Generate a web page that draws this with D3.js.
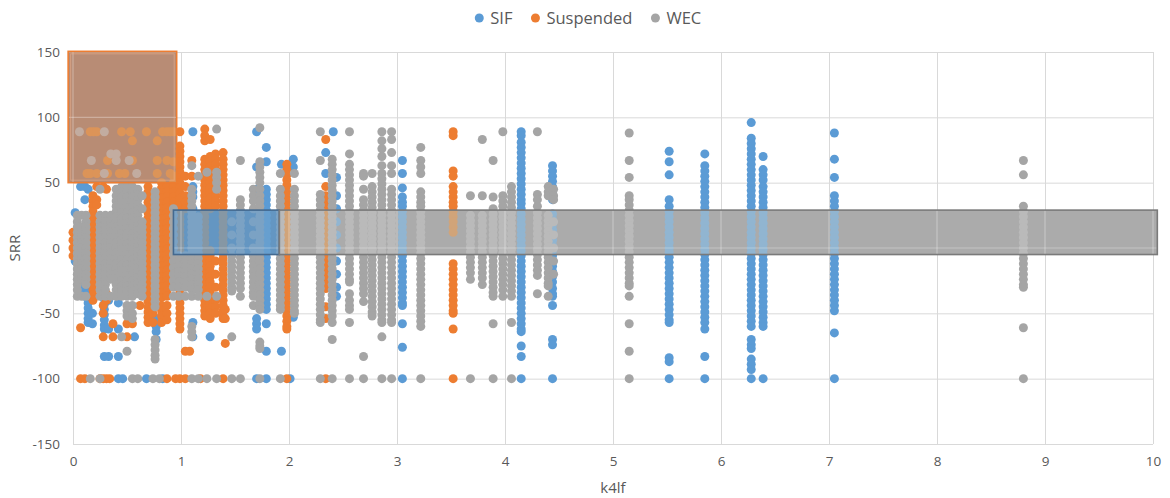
<!DOCTYPE html>
<html><head><meta charset="utf-8">
<script src="https://cdn.jsdelivr.net/npm/d3@7"></script>
<style>
body{margin:0;background:#fff;}
text{font-family:"Open Sans","Liberation Sans",sans-serif;}
</style>
</head><body>
<svg id="chart" width="1170" height="498"></svg>
<script>
// ---------- data ----------
const seriesNames = ["SIF", "Suspended", "WEC"];
const seriesColors = ["#5B9BD5", "#ED7D31", "#A5A5A5"];
const xTicks = [0, 1, 2, 3, 4, 5, 6, 7, 8, 9, 10];
const yTicks = [-150, -100, -50, 0, 50, 100, 150];
const xTitle = "k4lf";
const yTitle = "SRR";

// each entry: [k4lf, [SRR values at that k4lf]]
const sifCols = [
  [0.02, [27, 10, -10]],
  [0.07, [47, -31, -35]],
  [0.11, [47, 37, -27, -31, -37]],
  [0.14, [45, -26, -30, -34, -38, -42, -46, -50, -54, -57]],
  [0.18, [-50, -58]],
  [0.29, [-39, -43, -47, -51, -55, -59, -62, -83]],
  [0.33, [-40, -62, -83]],
  [0.42, [-42, -62, -83, -100]],
  [0.46, [-100]],
  [0.57, [-68]],
  [0.68, [-100]],
  [0.77, [-54, -57, -60, -64, -70]],
  [0.83, [-100]],
  [1.11, [89, 47, 43, 39, 30, 20, 10, 0, -57, -68]],
  [1.27, [-68]],
  [1.70, [89, 62, 45, 40, -54, -58, -62, -100]],
  [1.79, [77, 66, 45, 41, 37, 33, 29, 25, 21, 17, 13, 9, 5, 1, -3, -7, -11, -15, -19, -23, -27, -31, -35, -39, -43, -47, -58, -79, -100]],
  [1.93, [64, -79]],
  [2.01, [-100]],
  [2.04, [68, 62, -53]],
  [2.34, [73, 57]],
  [2.41, [89]],
  [2.44, [54, 40, 30, 20, 10, 0, -10, -20, -30, -37]],
  [3.05, [67, 57, 46, 39, 35, 32, 28, 24, 20, 16, 12, 8, 4, 0, -4, -6, -10, -14, -18, -22, -26, -30, -34, -38, -42, -44, -58, -76, -100]],
  [4.15, [89, 86, 81, 77, 73, 69, 65, 61, 57, 53, 49, 45, 41, 37, 34, 30, 26, 22, 18, 14, 10, 6, 2, -2, -6, -10, -14, -18, -22, -26, -30, -34, -38, -42, -46, -50, -54, -58, -62, -64, -75, -83, -100]],
  [4.44, [63, 59, 55, 51, 47, 43, 39, 37, 26, 22, 18, 14, 10, 6, 2, -2, -6, -10, -14, -18, -22, -26, -31, -35, -37, -44, -70, -74, -100]],
  [5.52, [74, 66, 56, 37, 32, 28, 24, 20, 16, 12, 8, 4, 0, -3, -7, -11, -15, -19, -23, -27, -31, -35, -39, -43, -47, -51, -55, -57, -84, -87, -100]],
  [5.85, [72, 63, 59, 55, 51, 47, 43, 39, 35, 31, 27, 23, 19, 15, 11, 7, 3, -1, -5, -9, -13, -17, -21, -25, -29, -33, -37, -41, -45, -49, -53, -57, -62, -83, -100]],
  [6.28, [96, 84, 80, 76, 72, 68, 64, 60, 56, 52, 48, 44, 40, 36, 32, 28, 24, 20, 16, 12, 8, 4, 0, -4, -8, -12, -16, -20, -24, -28, -32, -36, -40, -44, -48, -52, -56, -60, -70, -74, -77, -85, -89, -93, -100]],
  [6.39, [70, 60, 56, 52, 47, 43, 39, 35, 31, 27, 23, 19, 15, 11, 7, 3, -1, -5, -9, -13, -17, -21, -25, -29, -33, -37, -41, -45, -49, -53, -57, -60, -100]],
  [7.05, [88, 68, 54, 40, 36, 32, 28, 24, 20, 16, 12, 8, 4, 0, -4, -8, -12, -16, -20, -24, -28, -32, -36, -40, -44, -48, -65, -100]]
];

const suspendedCols = [
  [0.00, [12, 6, 0, -6]],
  [0.07, [-61, -100]],
  [0.11, [-100]],
  [0.13, [57]],
  [0.16, [89, 57]],
  [0.185, [40, 36, 32, 28, 24, 20, 16, 12, 8, 4, 0, -4, -8, -12, -16, -20, -24, -28, -32, -36, -40]],
  [0.19, [89]],
  [0.22, [89, 57, 47, 37, 33]],
  [0.25, [-100]],
  [0.28, [47, -44, -50, -68, -100]],
  [0.31, [45, -35, -40, -100]],
  [0.32, [67, 57]],
  [0.34, [-100]],
  [0.37, [-58, -68]],
  [0.43, [57]],
  [0.45, [89]],
  [0.48, [57]],
  [0.50, [-58, -68]],
  [0.53, [89]],
  [0.55, [82, 67, -58]],
  [0.62, [-44]],
  [0.68, [89]],
  [0.695, [47, 43, 39, 35, 31, 27, 23, 19, 15, 11, 7, 3, -1, -5, -9, -13, -17, -21, -25, -29, -33, -37, -41, -45, -49, -53, -57]],
  [0.74, [-44, -50, -57]],
  [0.78, [82, 67, 57]],
  [0.82, [50, 46, 42, 38, 34, 30, 26, 22, 18, 14, 10, 6, 2, -2, -6, -10, -14, -18, -22, -26, -30, -34, -38, -44, -48, -52, -57]],
  [0.83, [89]],
  [0.87, [89, 67, 47, 43, 39, 35, 31, 27, 23, 19, 15, 11, 7, 3, -1, -5, -9, -13, -17, -21, -25, -29, -33, -37, -44, -50, -55, -100]],
  [0.90, [89, 57]],
  [0.93, [89, 66, 55, 50, 47, 43, 39, 35, 31]],
  [0.95, [-100]],
  [0.99, [89, 78, 74, 70, 66, 62, 58, 54, 50, 46, 42, 38, 34, 30, 26, 22, 18, 14, 10, 6, 2, -2, -6, -10, -14, -18, -22, -26, -30, -34, -38, -42, -46, -50, -54, -58, -62, -100]],
  [1.04, [55, 47, 40, 35, 30, -79, -100]],
  [1.08, [-79]],
  [1.10, [67, 55]],
  [1.18, [-100]],
  [1.22, [91, 86, 82, 68, 64, 60, 56, 52, 48, 44, 40, 36, 32, 28, 24, 20, 16, 12, 8, 4, 0, -4, -8, -12, -16, -20, -24, -28, -32, -36, -40, -44, -48, -52]],
  [1.27, [83, 70, 66, 62, 58, 54, 50, 46, 42, 38, 34, 30, -2, -6, -10, -14, -18, -22, -26, -30, -34, -38, -42, -46, -50, -54]],
  [1.32, [72, 68, 64, 60, 56, 52, 48, 44, 40, 36, 32, -10, -20, -30, -40, -45, -50]],
  [1.39, [73, 68, 64, 60, 56, 52, 48, 44, 40, 36, 32, 28, 24, 20, 16, 12, 8, 4, 0, -4, -8, -12, -16, -20, -24, -28, -32, -36, -40, -44, -48, -52, -54, -100]],
  [1.41, [-47, -54, -73]],
  [1.98, [64, 60, 56, 52, 48, 44, 40, 36, 32, 28, 24, 20, 16, 12, 8, 4, 0, -4, -8, -12, -16, -20, -24, -28, -32, -36, -40, -44, -48, -52, -56, -60, -62, -100]],
  [2.34, [83, 47, 40, 36, 32, 28, 24, 20, 16, 12, 8, 4, 0, -4, -8, -12, -16, -20, -24, -28, -31, -45, -54, -100]],
  [3.52, [89, 86, 59, 55, 47, 43, 39, 35, 32, 28, 24, 20, 16, 12, -12, -16, -20, -24, -28, -32, -36, -40, -44, -48, -50, -62, -100]]
];

const wecCols = [
  [0.04, [25, 20, 16, 12, 8, 4, 0, -4, -8, -12, -16, -20, -24, -28, -32, -37]],
  [0.06, [89]],
  [0.08, [25, 16, 12, 8, 4, 0, -4, -8, -12, -16, -20, -24, -37]],
  [0.12, [25, 20, 16, 12, 8, 4, 0, -4, -8, -12, -16, -20, -24, -28, -37]],
  [0.16, [-100]],
  [0.17, [67]],
  [0.25, [45, 25, 20, 16, 12, 8, 4, 0, -4, -8, -12, -16, -20, -24, -28, -32, -37, -100]],
  [0.29, [89, 57]],
  [0.30, [25, 20, 16, 12, 8, 4, 0, -4, -8, -12, -16, -20, -24, -28, -32, -37]],
  [0.35, [72, 25, 20, 16, 12, 8, 4, 0, -4, -8, -12, -16, -20, -24, -37]],
  [0.40, [72, 67, 45, 40, 36, 32, 28, 24, 20, 16, 12, 8, 4, 0, -4, -8, -12, -16, -20, -24, -28, -32, -37]],
  [0.45, [47, 43, 39, 35, 31, 27, 23, 19, 15, 11, 7, 3, -1, -5, -9, -13, -17, -21, -25, -29, -33, -37, -68]],
  [0.50, [47, 43, 39, 35, 31, 27, 23, 19, 15, 11, 7, 3, -1, -5, -9, -13, -17, -21, -25, -29, -33, -37, -44, -48, -52, -79]],
  [0.52, [67]],
  [0.55, [47, 43, 39, 35, 31, 27, 23, 19, 15, 11, 7, 3, -1, -5, -9, -13, -17, -21, -25, -29, -33, -37, -44, -50, -54, -100]],
  [0.59, [57]],
  [0.60, [45, 41, 37, 33, 29, 25, 21, 17, 13, 9, 5, 1, -3, -7, -11, -15, -19, -23, -27, -31, -35, -100]],
  [0.64, [40, 30, 20, 16, 12, 8, 4, 0, -4, -8, -12, -16, -20, -24, -28, -32, -37]],
  [0.74, [-100]],
  [0.76, [43, 39, 35, 31, 27, 23, 19, 15, 11, 7, 3, -1, -5, -9, -13, -17, -21, -25, -29, -33, -37, -41, -45, -70, -74, -78, -82, -85]],
  [0.80, [-100]],
  [0.93, [30, 25, 20, 15, 10, 5, 0, -5, -10, -15, -20, -25, -30, -37]],
  [0.98, [-6, -10, -14, -18, -22, -26, -30, -37]],
  [1.04, [-6, -10, -14, -18, -22, -26, -30, -37]],
  [1.10, [63, 45, 40, 36, 32, 28, 24, 20, 16, 12, 8, 4, 0, -4, -8, -12, -16, -20, -24, -28, -32, -37, -60, -64, -68, -100]],
  [1.16, [55, 24, 20, 16, 12, 8, 4, 0, -4, -8, -12, -16, -20, -24, -28, -32, -37, -100]],
  [1.24, [58, -37, -100]],
  [1.33, [91, 58, 54, 50, 45, -37, -100]],
  [1.47, [20, 10, 0, -6, -10, -14, -18, -22, -26, -30, -33, -68, -100]],
  [1.55, [67, 37, 33, 29, 25, 21, 17, 13, 9, 5, 1, -3, -7, -11, -15, -19, -23, -27, -31, -37, -100]],
  [1.67, [45, 40, 36, 30, 20, 10, 0, -6, -10, -14, -18, -22, -26, -30, -34, -37, -44]],
  [1.73, [92, 66, 62, 58, 54, 50, 45, 40, 36, 32, 28, 24, 20, 16, 12, 8, 4, 0, -4, -8, -12, -16, -20, -24, -28, -32, -36, -40, -44, -47, -72, -75, -77, -100]],
  [1.92, [57, 45, 40, 36, 32, 28, 24, 20, 16, 12, 8, 4, 0, -4, -8, -12, -16, -20, -24, -28, -32, -36, -40, -44, -47, -100]],
  [2.05, [57, 45, 40, 36, 32, 28, 24, 20, 16, 12, 8, 4, 0, -4, -8, -12, -16, -20, -24, -28, -32, -36, -40, -44, -48, -50]],
  [2.29, [89, 67, 41, 37, 33, 29, 25, 21, 17, 13, 9, 5, 1, -3, -7, -11, -15, -19, -23, -27, -31, -35, -39, -43, -47, -51, -55, -57, -100]],
  [2.40, [68, 64, 60, 56, 52, 48, 44, 40, 36, 32, 28, 24, 20, 16, 12, 8, 4, 0, -4, -8, -12, -16, -20, -24, -28, -32, -36, -40, -44, -48, -52, -57, -70, -100]],
  [2.56, [89, 72, 64, 60, 56, 52, 48, 44, 40, 36, 32, 28, 24, 20, 16, 12, 8, 4, 0, -4, -8, -12, -16, -20, -24, -26, -35, -40, -44, -47, -57, -100]],
  [2.69, [57, 55, 45, 37, 33, 29, 25, 21, 17, 13, 9, 5, 1, -3, -7, -11, -15, -19, -23, -27, -31, -35, -41, -83, -100]],
  [2.77, [57, 47, 43, 39, 35, 31, 27, 23, 19, 15, 11, 7, 3, -1, -5, -9, -13, -17, -21, -25, -29, -33, -37, -41, -45, -49, -52]],
  [2.86, [89, 82, 76, 70, 63, 57, 53, 49, 45, 41, 37, 33, 29, 25, 21, 17, 13, 9, 5, 1, -3, -7, -11, -15, -19, -23, -27, -31, -35, -39, -43, -47, -51, -55, -57, -68, -100]],
  [2.95, [89, 83, 73, 63, 57, 45, 41, 37, 33, 29, 25, 21, 17, 13, 9, 5, 1, -3, -7, -11, -15, -19, -23, -27, -31, -35, -39, -43, -47, -51, -55, -57, -100]],
  [3.22, [77, 67, 62, 57, 43, 39, 35, 32, 28, 24, 20, 16, 12, 8, 4, 0, -4, -8, -12, -16, -20, -24, -28, -32, -36, -40, -44, -48, -52, -56, -60, -100]],
  [3.68, [40, 25, 21, 17, 13, 9, 5, 1, -3, -7, -11, -15, -19, -24, -100]],
  [3.79, [83, 40, 25, 21, 17, 13, 9, 5, 1, -3, -7, -11, -15, -19, -23, -28]],
  [3.89, [67, 39, 30, 26, 22, 18, 14, 10, 6, 2, -2, -6, -10, -14, -18, -22, -26, -30, -34, -37, -58, -100]],
  [3.98, [89, 40, 36, 32, 28, 24, 20, 16, 12, 8, 4, 0, -4, -8, -12, -16, -20, -24, -28, -32, -37]],
  [4.06, [47, 43, 39, 35, 31, 27, 23, 19, 15, 11, 7, 3, -1, -5, -9, -13, -17, -21, -25, -29, -33, -37, -57, -100]],
  [4.30, [89, 41, 37, 32, 27, 23, 19, 15, 11, 7, 3, -1, -5, -9, -13, -17, -21, -35]],
  [4.40, [47, 43, 40, 25, 21, 17, 13, 9, 5, 1, -3, -7, -11, -15, -19, -23, -27, -29, -37]],
  [4.45, [45, 40, 37, 20, 10, 0, -10, -20]],
  [5.15, [88, 67, 54, 40, 37, 33, 29, 25, 21, 17, 13, 9, 5, 1, -3, -7, -11, -15, -19, -23, -27, -29, -37, -58, -79, -100]],
  [8.80, [67, 56, 32, 28, 24, 20, 16, 12, 8, 4, 0, -4, -8, -12, -16, -20, -24, -28, -30, -61, -100]]
];

// highlighted zones (data units)
const zoneNames = ["Suspended zone", "SIF zone", "WEC zone"];
const zoneX0 = [-0.045, 0.93, 1.91];
const zoneX1 = [0.96, 1.91, 10.04];
const zoneYLow = [50, -5, -5];
const zoneYHigh = [150.5, 29, 29];

// ---------- drawing ----------
const svg = d3.select("#chart");
const x = d3.scaleLinear().domain([0, 10]).range([73, 1153]);
const y = d3.scaleLinear().domain([-150, 150]).range([444, 52]);
const R = 4.5;
const textColor = "#595959";
const gridColor = "#d9d9d9";

const allSeries = [sifCols, suspendedCols, wecCols].map((cols, i) => ({
  name: seriesNames[i], color: seriesColors[i],
  pts: cols.flatMap(([k, ys]) => ys.map(v => ({x: k, y: v})))
}));

// grid via axes
const gy = svg.append("g").attr("transform", `translate(${x(0)},0)`)
  .call(d3.axisLeft(y).tickValues(yTicks).tickSize(-(x(10) - x(0))).tickPadding(13).tickFormat(d => String(d)));
gy.select(".domain").remove();
gy.selectAll(".tick line").attr("stroke", gridColor).attr("stroke-width", 1);
gy.selectAll(".tick text").attr("fill", textColor).style("font-size", "13.5px");

const gx = svg.append("g").attr("transform", `translate(0,${y(-150)})`)
  .call(d3.axisBottom(x).tickValues(xTicks).tickSize(-(y(-150) - y(150))).tickPadding(12).tickFormat(d => String(d)));
gx.select(".domain").remove();
gx.selectAll(".tick line").attr("stroke", gridColor).attr("stroke-width", 1);
gx.selectAll(".tick text").attr("fill", textColor).style("font-size", "13.5px");

// points
function drawPoints(g, colorFn) {
  allSeries.forEach(s => {
    g.append("g").selectAll("circle").data(s.pts).join("circle")
      .attr("cx", d => x(d.x)).attr("cy", d => y(d.y)).attr("r", R)
      .attr("fill", colorFn(s.color));
  });
}
drawPoints(svg.append("g"), c => c);

// zones
const zones = zoneNames.map((n, i) => ({
  name: n, px0: x(zoneX0[i]), px1: x(zoneX1[i]), py0: y(zoneYHigh[i]), py1: y(zoneYLow[i])
}));
const zoneFill = ["#b88c75", "#6496c2", "#ababab"];
const zoneStroke = ["#ED7D31", "#44698f", "#7a7a7a"];
const zoneInnerOpacity = [0.5, 0.22, 0.45];

const defs = svg.append("defs");
zones.forEach((z, i) => {
  defs.append("clipPath").attr("id", "zclip" + i).append("rect")
    .attr("x", z.px0).attr("y", z.py0).attr("width", z.px1 - z.px0).attr("height", z.py1 - z.py0);
});

zones.forEach((z, i) => {
  svg.append("rect").attr("x", z.px0).attr("y", z.py0)
    .attr("width", z.px1 - z.px0).attr("height", z.py1 - z.py0)
    .attr("fill", zoneFill[i]);
  const g = svg.append("g").attr("clip-path", `url(#zclip${i})`);
  // points seen faintly through the zone (group opacity so overlaps do not add up)
  const pg = g.append("g").attr("opacity", zoneInnerOpacity[i]);
  drawPoints(pg, c => d3.color(c).brighter(0.6).formatHex());
  // faint grid seen through the zone
  g.append("g").selectAll("line").data(xTicks).join("line")
    .attr("x1", d => x(d)).attr("x2", d => x(d)).attr("y1", y(-150)).attr("y2", y(150))
    .attr("stroke", "#fff").attr("stroke-opacity", 0.3).attr("stroke-width", 1.2);
  g.append("g").selectAll("line").data(yTicks).join("line")
    .attr("x1", x(0) - 10).attr("x2", x(10) + 10).attr("y1", d => y(d)).attr("y2", d => y(d))
    .attr("stroke", "#fff").attr("stroke-opacity", 0.3).attr("stroke-width", 1.2);
});
zones.forEach((z, i) => {
  svg.append("rect").attr("x", z.px0).attr("y", z.py0)
    .attr("width", z.px1 - z.px0).attr("height", z.py1 - z.py0)
    .attr("fill", "none").attr("stroke", zoneStroke[i]).attr("stroke-width", 1.6);
});
// inner light edge on the Suspended zone
svg.append("rect").attr("x", zones[0].px0 + 2.5).attr("y", zones[0].py0 + 2.5)
  .attr("width", zones[0].px1 - zones[0].px0 - 5).attr("height", zones[0].py1 - zones[0].py0 - 5)
  .attr("fill", "none").attr("stroke", "#f3b690").attr("stroke-opacity", 0.5).attr("stroke-width", 1);

// axis titles
svg.append("text").attr("x", x(5)).attr("y", 493).attr("text-anchor", "middle")
  .attr("fill", textColor).style("font-size", "15px").text(xTitle);
svg.append("text").attr("transform", `translate(20,${y(0)}) rotate(-90)`).attr("text-anchor", "middle")
  .attr("fill", textColor).style("font-size", "15px").text(yTitle);

// legend (centred)
const lg = svg.append("g");
let cx = 0;
seriesNames.forEach((n, i) => {
  lg.append("circle").attr("cx", cx).attr("cy", 18).attr("r", R).attr("fill", seriesColors[i]);
  const t = lg.append("text").attr("x", cx + 11).attr("y", 23.5).attr("fill", textColor)
    .style("font-size", "16.5px").text(n);
  cx += 11 + t.node().getComputedTextLength() + 23;
});
const lw = cx - 23 + R;
lg.attr("transform", `translate(${588 - lw / 2 + R},0)`);
</script>
</body></html>
